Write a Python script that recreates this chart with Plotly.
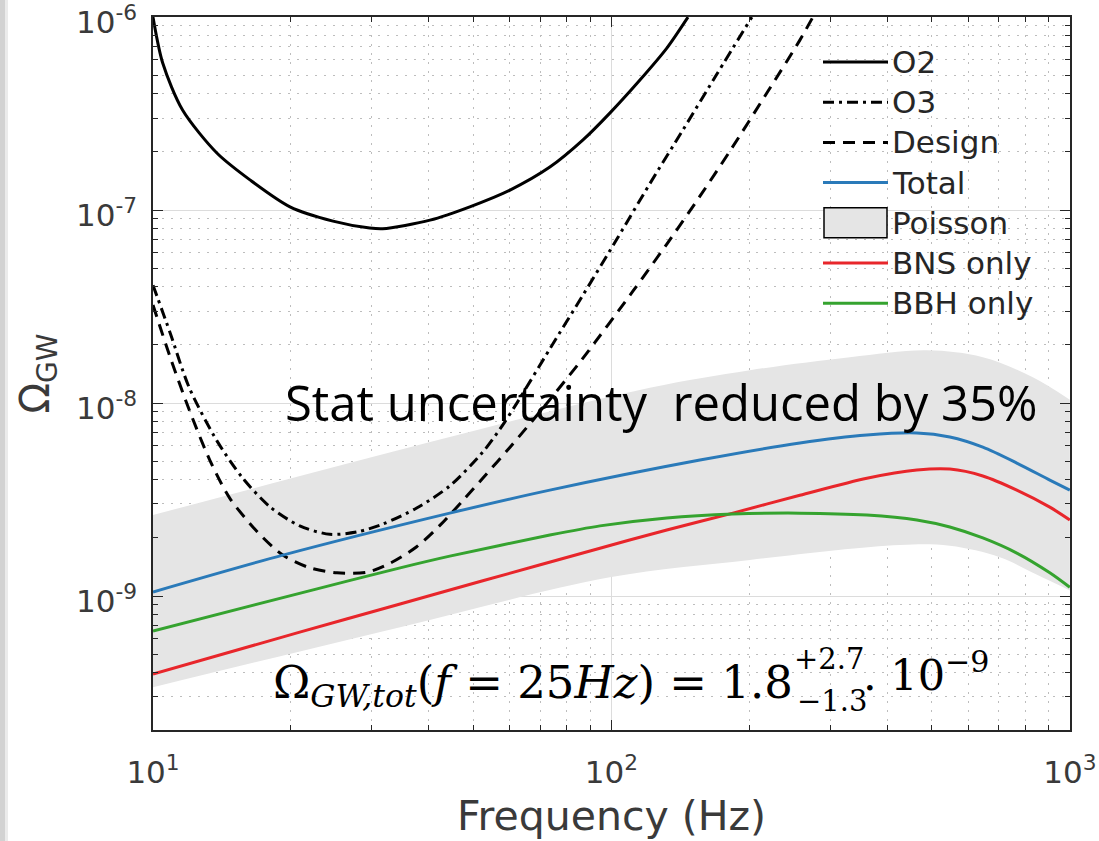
import plotly.graph_objects as go

# ---------------- data (frequency in Hz, Omega_GW) ----------------
freq_O2 = [10, 10.5, 11.6, 13.8, 16.3, 19.9, 24.7, 29.7, 31.7, 40.2, 49.1, 60.1, 73.4, 86.7, 99.2, 115.4, 132.1, 146.9]
omega_O2 = [1.0e-6, 5.78e-7, 3.30e-7, 1.97e-7, 1.43e-7, 1.04e-7, 8.77e-8, 8.07e-8, 8.0e-8, 8.87e-8, 1.04e-7,
            1.27e-7, 1.67e-7, 2.31e-7, 3.18e-7, 4.72e-7, 6.91e-7, 1.0e-6]

freq_O3 = [10, 10.9, 12.0, 13.8, 15.7, 18.0, 20.9, 24.3, 27.9, 31.7, 37.6, 44.4, 52.4, 57.1, 62.2, 73.4, 86.7,
           102.8, 121.3, 143.2, 169.9, 202.5]
omega_O3 = [4.08e-8, 2.31e-8, 1.20e-8, 6.35e-9, 4.08e-9, 2.90e-9, 2.31e-9, 2.09e-9, 2.15e-9, 2.36e-9, 2.86e-9,
            3.72e-9, 5.57e-9, 7.32e-9, 1.0e-8, 1.91e-8, 3.63e-8, 7.08e-8, 1.37e-7, 2.60e-7, 5.07e-7, 1.0e-6]

freq_design = [10, 10.9, 12.0, 13.3, 14.7, 16.9, 19.2, 22.0, 25.2, 29.3, 32.9, 37.6, 42.3, 47.5, 52.4, 60.1,
               70.9, 86.7, 111.4, 132.1, 156.0, 181.3, 218.3, 257.7, 275.1]
omega_design = [3.22e-8, 1.73e-8, 9.2e-9, 5.07e-9, 3.22e-9, 2.15e-9, 1.63e-9, 1.40e-9, 1.32e-9, 1.33e-9, 1.48e-9,
                1.80e-9, 2.33e-9, 3.14e-9, 4.08e-9, 5.91e-9, 9.42e-9, 1.71e-8, 3.80e-8, 6.67e-8, 1.18e-7,
                2.02e-7, 4.04e-7, 7.6e-7, 1.0e-6]

freq_total = [10, 19.2, 44.4, 73.4, 156.0, 257.7, 360.8, 463.8, 547.3, 646.0, 766.2, 904.4, 1000]
omega_total = [1.05e-9, 1.63e-9, 2.69e-9, 3.54e-9, 5.07e-9, 6.21e-9, 6.83e-9, 7.0e-9, 6.67e-9, 5.91e-9,
               4.89e-9, 3.99e-9, 3.54e-9]

freq_bns = [10, 20.9, 34.6, 52.4, 94.4, 132.1, 184.1, 257.7, 360.8, 463.8, 547.3, 646.0, 766.2, 904.4, 1000]
omega_bns = [3.94e-10, 6.5e-10, 9.10e-10, 1.20e-9, 1.77e-9, 2.20e-9, 2.69e-9, 3.33e-9, 4.08e-9, 4.50e-9,
             4.55e-9, 4.19e-9, 3.54e-9, 2.89e-9, 2.48e-9]

freq_bbh = [10, 22.8, 34.6, 44.4, 73.4, 94.4, 132.1, 184.1, 257.7, 360.8, 463.8, 547.3, 646.0, 766.2, 904.4, 1000]
omega_bbh = [6.59e-10, 1.09e-9, 1.40e-9, 1.61e-9, 2.07e-9, 2.31e-9, 2.54e-9, 2.66e-9, 2.69e-9, 2.63e-9,
             2.48e-9, 2.28e-9, 2.00e-9, 1.67e-9, 1.32e-9, 1.11e-9]

freq_poisson_hi = [10, 44.4, 121.3, 200.5, 331.3, 487.6, 646.0, 830.4, 1000]
omega_poisson_hi = [2.63e-9, 6.67e-9, 1.20e-8, 1.48e-8, 1.73e-8, 1.88e-8, 1.73e-8, 1.36e-8, 1.04e-8]
freq_poisson_lo = [10, 34.6, 99.2, 200.5, 425.8, 547.3, 703.6, 830.4, 1000]
omega_poisson_lo = [3.37e-10, 6.90e-10, 1.25e-9, 1.54e-9, 1.84e-9, 1.82e-9, 1.59e-9, 1.32e-9, 1.07e-9]

x_tick_vals = [10, 100, 1000]
x_tick_text = ["10<sup>1</sup>", "10<sup>2</sup>", "10<sup>3</sup>"]
y_tick_vals = [1e-9, 1e-8, 1e-7, 1e-6]
y_tick_text = ["10<sup>-9</sup>", "10<sup>-8</sup>", "10<sup>-7</sup>", "10<sup>-6</sup>"]

legend_names = ["O2", "O3", "Design", "Total", "Poisson", "BNS only", "BBH only"]

# ---------------- styles ----------------
BLACK = "#000000"
BLUE = "#2a7ab9"
RED = "#e8262b"
GREEN = "#35a32f"
BAND = "#e5e5e5"
AXC = "#262626"
TXT = "#3a3a3a"
DASH = "12px,8px"
DASHDOT = "11px,5px,3px,5px"
LW = 3

line_styles = {
    "O2": dict(color=BLACK, dash="solid"),
    "O3": dict(color=BLACK, dash=DASHDOT),
    "Design": dict(color=BLACK, dash=DASH),
    "Total": dict(color=BLUE, dash="solid"),
    "BNS only": dict(color=RED, dash="solid"),
    "BBH only": dict(color=GREEN, dash="solid"),
}

W, H = 1099, 841
L, R, T, B = 153, 1070, 17, 730


def pxp(xp):
    return (xp - L) / (R - L)


def pyp(yp):
    return (B - yp) / (B - T)


fig = go.Figure()

# Poisson band
fig.add_trace(go.Scatter(x=freq_poisson_lo, y=omega_poisson_lo, mode="lines",
                         line=dict(width=0, shape="spline", color="rgba(0,0,0,0)"),
                         showlegend=False, hoverinfo="skip"))
fig.add_trace(go.Scatter(x=freq_poisson_hi, y=omega_poisson_hi, mode="lines", fill="tonexty",
                         fillcolor=BAND, line=dict(width=0, shape="spline", color="rgba(0,0,0,0)"),
                         name="Poisson", showlegend=False))

series = [
    ("O2", freq_O2, omega_O2),
    ("O3", freq_O3, omega_O3),
    ("Design", freq_design, omega_design),
    ("Total", freq_total, omega_total),
    ("BNS only", freq_bns, omega_bns),
    ("BBH only", freq_bbh, omega_bbh),
]
for name, fx, fy in series:
    st = line_styles[name]
    fig.add_trace(go.Scatter(x=fx, y=fy, mode="lines", name=name, showlegend=False,
                             line=dict(color=st["color"], dash=st["dash"], width=LW,
                                       shape="spline", smoothing=0.8)))

# ---------------- custom legend ----------------
shapes = []
annotations = []
row0, row_step = 62, 40.2
for i, name in enumerate(legend_names):
    yc = row0 + i * row_step
    if name == "Poisson":
        shapes.append(dict(type="rect", xref="paper", yref="paper",
                           x0=pxp(824), x1=pxp(887), y0=pyp(yc + 15), y1=pyp(yc - 15),
                           fillcolor=BAND, line=dict(color=BLACK, width=1.5), layer="above"))
    else:
        st = line_styles[name]
        shapes.append(dict(type="line", xref="paper", yref="paper",
                           x0=pxp(823), x1=pxp(888), y0=pyp(yc), y1=pyp(yc),
                           line=dict(color=st["color"], dash=st["dash"], width=LW), layer="above"))
    annotations.append(dict(text=name, xref="paper", yref="paper", x=pxp(890), y=pyp(yc),
                            xanchor="left", yanchor="middle", showarrow=False,
                            font=dict(family="DejaVu Sans", size=31, color=AXC)))

# left slide edge strip
shapes.append(dict(type="rect", xref="paper", yref="paper", x0=pxp(0), x1=pxp(5),
                   y0=pyp(H), y1=pyp(0), fillcolor="#d2d2d2", line=dict(width=0), layer="above"))
shapes.append(dict(type="rect", xref="paper", yref="paper", x0=pxp(5), x1=pxp(8),
                   y0=pyp(H), y1=pyp(0), fillcolor="#ebebeb", line=dict(width=0), layer="above"))

# text annotations
annotations.append(dict(text="Stat uncertainty\u00a0 reduced by 35%", xref="paper", yref="paper",
                        x=pxp(283), y=pyp(402), xanchor="left", yanchor="middle", showarrow=False,
                        font=dict(family="Open Sans", size=49, color="#000000")))
SERIF = "DejaVu Serif"
annotations.append(dict(text="Ω<sub><i>GW,tot</i></sub>(<i>f</i> = 25<i>Hz</i>) = 1.8",
                        xref="paper", yref="paper", x=pxp(795), y=pyp(685),
                        xanchor="right", yanchor="middle", showarrow=False,
                        font=dict(family=SERIF, size=45, color="#000000")))
annotations.append(dict(text="+2.7", xref="paper", yref="paper", x=pxp(792), y=pyp(659),
                        xanchor="left", yanchor="middle", showarrow=False,
                        font=dict(family=SERIF, size=29, color="#000000")))
annotations.append(dict(text="\u22121.3", xref="paper", yref="paper", x=pxp(795), y=pyp(701),
                        xanchor="left", yanchor="middle", showarrow=False,
                        font=dict(family=SERIF, size=29, color="#000000")))
annotations.append(dict(text=". 10<sup>\u22129</sup>", xref="paper", yref="paper", x=pxp(861), y=pyp(672),
                        xanchor="left", yanchor="middle", showarrow=False,
                        font=dict(family=SERIF, size=43, color="#000000")))

axis_common = dict(
    ticks="inside", ticklen=10, tickwidth=1.2, tickcolor=AXC,
    showline=True, linecolor=AXC, linewidth=1.5, mirror="ticks",
    showgrid=True, gridcolor="#dcdcdc", gridwidth=1, zeroline=False,
    tickfont=dict(family="DejaVu Sans", size=31, color=TXT),
    ticklabeloverflow="allow",
    minor=dict(dtick="D1", ticks="inside", ticklen=5, tickwidth=1, tickcolor=AXC,
               showgrid=True, gridcolor="#bdbdbd", gridwidth=1, griddash="2px,7px"),
)

fig.update_layout(
    width=W, height=H,
    margin=dict(l=L, r=W - R, t=T, b=H - B, autoexpand=False),
    paper_bgcolor="white", plot_bgcolor="white",
    showlegend=False,
    shapes=shapes, annotations=annotations,
    xaxis=dict(type="log", range=[1, 3.0004], tickmode="array", tickvals=x_tick_vals, ticktext=x_tick_text,
               ticklabelstandoff=14, automargin=False,
               title=dict(text="Frequency (Hz)", standoff=12,
                          font=dict(family="DejaVu Sans", size=41, color=TXT)),
               **axis_common),
    yaxis=dict(type="log", range=[-9.694, -5.9995], tickmode="array", tickvals=y_tick_vals, ticktext=y_tick_text,
               ticklabelstandoff=8, ticklabelshift=5, automargin=False,
               title=dict(text="Ω<sub>GW</sub>", standoff=14,
                          font=dict(family="DejaVu Sans", size=40, color=TXT)),
               **axis_common),
)

fig.write_html("out.html")
